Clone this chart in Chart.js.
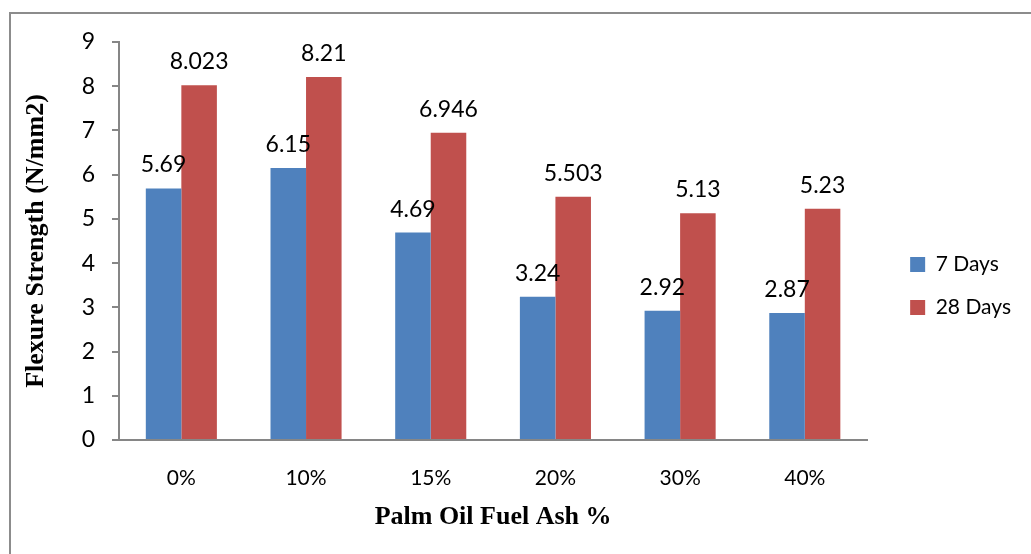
<!DOCTYPE html>
<html>
<head>
<meta charset="utf-8">
<script src="https://cdn.jsdelivr.net/npm/chart.js@4/dist/chart.umd.min.js"></script>
<style>
  html, body { margin: 0; padding: 0; background: #fff; overflow: hidden; }
  #wrap { position: relative; width: 1031px; height: 554px; }
  #frame {
    position: absolute; left: 9px; top: 12px; width: 1100px; height: 600px;
    border-left: 2px solid #8c8c8c; border-top: 2px solid #8c8c8c;
  }
  canvas { position: absolute; left: 0; top: 0; }
</style>
</head>
<body>
<div id="wrap">
  <div id="frame"></div>
  <canvas id="chart" width="1031" height="554"></canvas>
</div>
<script>
// Flexural strength of concrete with palm oil fuel ash replacement
const categories = ['0%', '10%', '15%', '20%', '30%', '40%'];
const days7 = [5.69, 6.15, 4.69, 3.24, 2.92, 2.87];
const days28 = [8.023, 8.21, 6.946, 5.503, 5.13, 5.23];
const seriesNames = ['7 Days', '28 Days'];
const seriesColors = ['#4F81BD', '#C0504D'];
const yTicks = [0, 1, 2, 3, 4, 5, 6, 7, 8, 9];

const axisGray = '#868686';
const sansFont = 'Lato, "Open Sans", sans-serif';
const serifFont = '"Liberation Serif", "DejaVu Serif", serif';

// Writes each bar's value above it
const valueLabels = {
  id: 'valueLabels',
  afterDatasetsDraw(chart) {
    const ctx = chart.ctx;
    ctx.save();
    ctx.font = '23px ' + sansFont;
    ctx.fillStyle = '#000';
    ctx.textAlign = 'center';
    ctx.textBaseline = 'alphabetic';
    chart.data.datasets.forEach((ds, i) => {
      const meta = chart.getDatasetMeta(i);
      meta.data.forEach((bar, j) => {
        ctx.fillText(String(ds.data[j]), bar.x, bar.y - 16);
      });
    });
    ctx.restore();
  }
};

// Leaves a wider gap between the plot and the legend
const legendOffset = {
  id: 'legendOffset',
  afterLayout(chart) {
    const lg = chart.legend;
    if (!lg) return;
    lg.left += 21; lg.right += 21;
    lg.top -= 12; lg.bottom -= 12;
  }
};

new Chart(document.getElementById('chart'), {
  type: 'bar',
  data: {
    labels: categories,
    datasets: [
      { label: seriesNames[0], data: days7, backgroundColor: seriesColors[0] },
      { label: seriesNames[1], data: days28, backgroundColor: seriesColors[1] }
    ]
  },
  options: {
    responsive: false,
    animation: false,
    devicePixelRatio: 1,
    layout: { padding: { left: 0, top: 42, right: 31, bottom: 0 } },
    datasets: { bar: { categoryPercentage: 0.57, barPercentage: 1.0 } },
    scales: {
      x: {
        grid: { display: false, drawTicks: false, tickLength: 0 },
        border: { display: true, color: axisGray, width: 2 },
        ticks: { color: '#000', font: { family: sansFont, size: 21 }, padding: 26 },
        title: {
          display: true, text: 'Palm Oil Fuel Ash %', color: '#000',
          font: { family: serifFont, size: 26, weight: 'bold' },
          padding: { top: 0, bottom: 21 }
        },
        afterFit(scale) { scale.height = 114; }
      },
      y: {
        min: 0, max: 9,
        afterBuildTicks(scale) { scale.ticks = yTicks.map(v => ({ value: v })); },
        grid: { drawOnChartArea: false, drawTicks: true, tickLength: 7, color: axisGray, lineWidth: 2 },
        border: { display: true, color: axisGray, width: 2 },
        ticks: { color: '#000', font: { family: sansFont, size: 23 }, padding: 17 },
        title: {
          display: true, text: 'Flexure Strength (N/mm2)', color: '#000',
          font: { family: serifFont, size: 26, weight: 'bold' },
          padding: { top: 21, bottom: 0 }
        },
        afterFit(scale) { scale.width = 119; }
      }
    },
    plugins: {
      legend: {
        position: 'right',
        fullSize: true,
        labels: {
          boxWidth: 15, boxHeight: 15, color: '#000',
          font: { family: sansFont, size: 21 }, padding: 22
        }
      },
      tooltip: { enabled: false }
    }
  },
  plugins: [valueLabels, legendOffset]
});
</script>
</body>
</html>
